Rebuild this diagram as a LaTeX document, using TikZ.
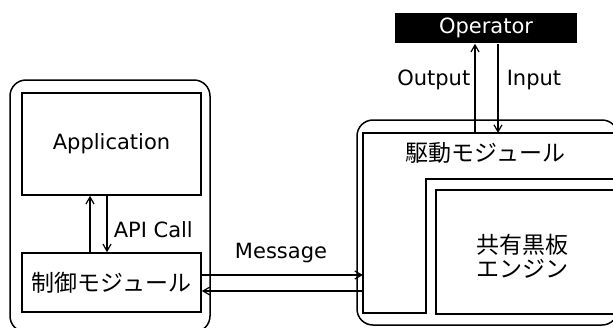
\documentclass[tikz,border=0pt]{standalone}
\usepackage{fontspec}
\setmainfont{DejaVu Sans}
\newfontfamily\jp{Noto Sans CJK JP}
\usetikzlibrary{arrows.meta}
\begin{document}
\begin{tikzpicture}[x=1pt,y=-1pt,line width=1.5pt,
  box/.style={draw,line width=1.5pt,inner sep=0pt},
  arr/.style={-{Straight Barb[length=7pt,width=8pt,line width=1.2pt]},line width=1.4pt},
  lab/.style={font=\fontsize{21}{24}\selectfont,inner sep=0pt},
  jl/.style={font=\jp\fontsize{23}{26}\selectfont,inner sep=0pt}]
\useasboundingbox (0,0) rectangle (613,327);
\clip (0,0) rectangle (613,327);
% left side
\node[box,rounded corners=16pt,minimum width=200pt,minimum height=252pt] (lout) at (110,206) {};
\node[box,lab,minimum width=179pt,minimum height=102pt] (app) at (111.5,144) {Application};
\node[box,jl,minimum width=179pt,minimum height=59pt] (ctrl) at (111.5,282.5) {制御モジュール};
% right side
\node[box,rounded corners=16pt,minimum width=261pt,minimum height=205pt] (rout) at (487.5,222.5) {};
\coordinate (drvNW) at (363,133);
\draw[line width=1.5pt] (drvNW) -- (640,133) -- (640,179) -- (426,179) -- (426,313) -- (363,313) -- cycle;
\node[jl] (drv) at (485.5,153) {駆動モジュール};
\node[box,minimum width=205pt,minimum height=124pt,anchor=north west] (eng) at (435,189) {};
\node[jl,align=center] (engl) at (522,256) {共有黒板\\[-2pt]エンジン};
\node[fill=black,lab,text=white,minimum width=182pt,minimum height=30pt] (op) at (486,28) {Operator};
% connectors
\draw[arr] ([xshift=-21.5pt]ctrl.north) -- ([xshift=-21.5pt]app.south);
\draw[arr] ([xshift=-4.5pt]app.south) -- ([xshift=-4.5pt]ctrl.north);
\node[lab,anchor=west] (api) at (113,230) {API Call};
\draw[arr] ([yshift=7.5pt]ctrl.east) -- ([yshift=7.5pt]ctrl.east -| drvNW);
\draw[arr] ([yshift=-8.5pt]ctrl.east -| drvNW) -- ([yshift=-8.5pt]ctrl.east);
\node[lab] (msg) at (281,253) {Message};
\draw[arr] ([xshift=-11pt]op.south |- drvNW) -- ([xshift=-11pt]op.south);
\draw[arr] ([xshift=12pt]op.south) -- ([xshift=12pt]op.south |- drvNW);
\node[lab,anchor=east] (outl) at (471,80) {Output};
\node[lab,anchor=west] (inl) at (506,80) {Input};
\end{tikzpicture}
\end{document}
